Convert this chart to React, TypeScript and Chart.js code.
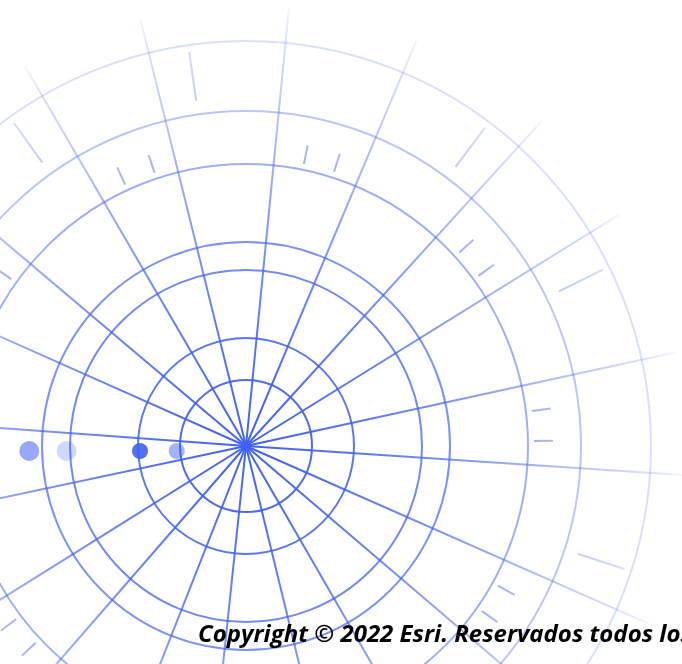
import { useEffect, useRef } from 'react'
import { Chart, registerables } from 'chart.js'

Chart.register(...registerables)

// all values are in px from the hub of the wheel, y pointing up
const RING_RADII = [66, 108, 176, 204, 282, 335, 405]
const SPOKE_ANGLES = [84.4, 67.2, 47.7, 31.8, 12.3, -3.8, -23.8, -40.5, -60, -76.3, -96, -111.5, -131, -148, -168, 175.8, 156, 139.8, 120.2, 103.9]
const SPOKE_LENGTH = 440
const SHORT_TICK_ANGLES = [114.8, 108.5, 78.4, 72.2, 42.2, 36.2, 7.0, 1.0, -29, -35, -136.9, -143, 144.6]
const SHORT_TICK_SPAN = [288, 307]
const LONG_TICK_ANGLES = [125.7, 98.2, 53.1, 26.3, -18]
const LONG_TICK_SPAN = [349, 398]
const DOT_X = [-216.7, -179.3, -106, -69.3]
const DOT_Y = -5

const BLUE = '64, 96, 240'
const DOT_ALPHA = [0.55, 0.25, 0.9, 0.48]
const DOT_SIZE = [10, 10, 8, 8]
const FADE: [number, number][] = [
  [0, 1],
  [66, 0.92],
  [108, 0.86],
  [176, 0.74],
  [204, 0.68],
  [282, 0.5],
  [335, 0.36],
  [405, 0.2],
  [440, 0.05],
]

function polar(deg: number, r: number) {
  const a = (deg * Math.PI) / 180
  return { x: r * Math.cos(a), y: r * Math.sin(a) }
}

function fade(context: any) {
  const chart = context.chart
  const x = chart.scales?.x
  const y = chart.scales?.y
  const fallback = `rgba(${BLUE},0.6)`
  if (!chart.chartArea || !x || !y) return fallback
  const cx = x.getPixelForValue(0)
  const cy = y.getPixelForValue(0)
  if (!Number.isFinite(cx) || !Number.isFinite(cy)) return fallback
  const g = chart.ctx.createRadialGradient(cx, cy, 0, cx, cy, SPOKE_LENGTH)
  for (const [r, a] of FADE) g.addColorStop(r / SPOKE_LENGTH, `rgba(${BLUE},${a})`)
  return g
}

function segment(from: { x: number; y: number }, to: { x: number; y: number }) {
  return {
    type: 'line',
    data: [from, to],
    borderColor: fade,
    borderWidth: 2,
    pointRadius: 0,
    showLine: true,
    fill: false,
  }
}

export default function App() {
  const canvasRef = useRef<HTMLCanvasElement | null>(null)

  useEffect(() => {
    if (!canvasRef.current) return undefined

    const spokes = SPOKE_ANGLES.map((deg) => segment({ x: 0, y: 0 }, polar(deg, SPOKE_LENGTH)))
    const shortTicks = SHORT_TICK_ANGLES.map((deg) =>
      segment(polar(deg, SHORT_TICK_SPAN[0]), polar(deg, SHORT_TICK_SPAN[1])),
    )
    const longTicks = LONG_TICK_ANGLES.map((deg) =>
      segment(polar(deg, LONG_TICK_SPAN[0]), polar(deg, LONG_TICK_SPAN[1])),
    )

    const chart = new Chart(canvasRef.current, {
      type: 'scatter',
      data: {
        datasets: [
          // first dataset is painted last, so the dots sit on top
          {
            type: 'bubble',
            data: DOT_X.map((x, i) => ({ x, y: DOT_Y, r: DOT_SIZE[i] })),
            backgroundColor: DOT_ALPHA.map((a) => `rgba(${BLUE},${a})`),
            borderWidth: 0,
          },
          {
            type: 'bubble',
            data: RING_RADII.map((r) => ({ x: 0, y: 0, r })),
            backgroundColor: 'rgba(0,0,0,0)',
            borderColor: fade,
            borderWidth: 2,
          },
          ...spokes,
          ...shortTicks,
          ...longTicks,
        ] as any,
      },
      options: {
        animation: false,
        responsive: true,
        maintainAspectRatio: false,
        events: [],
        // big bubbles would otherwise eat the whole chart area
        layout: { padding: 0, autoPadding: false },
        plugins: {
          legend: { display: false },
          tooltip: { enabled: false },
        },
        scales: {
          x: { type: 'linear', min: -246, max: 436, display: false },
          y: { type: 'linear', min: -218, max: 446, display: false },
        },
      },
    })

    return () => chart.destroy()
  }, [])

  return (
    <div
      style={{
        position: 'absolute',
        left: 0,
        top: 0,
        width: 682,
        height: 664,
        overflow: 'hidden',
        background: '#fff',
      }}
    >
      <div style={{ position: 'absolute', left: 0, top: 0, width: 682, height: 664 }}>
        <canvas ref={canvasRef} />
      </div>
      <div
        style={{
          position: 'absolute',
          left: 198,
          top: 621,
          fontFamily: '"Open Sans", sans-serif',
          fontWeight: 700,
          fontStyle: 'italic',
          fontSize: 24,
          lineHeight: '24px',
          whiteSpace: 'nowrap',
          color: '#000',
        }}
      >
        Copyright © 2022 Esri. Reservados todos los
      </div>
    </div>
  )
}
